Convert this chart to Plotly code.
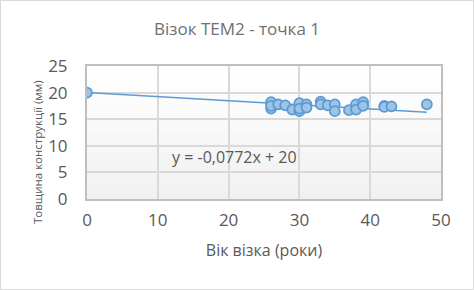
import plotly.graph_objects as go

# Data
age = [0, 26, 26, 26, 27, 28, 29, 30, 30, 30, 31, 31, 33, 33, 34, 35, 35, 37, 38, 38, 39, 39, 42, 42, 43, 48]
thickness = [20.0, 18.2, 17.0, 17.5, 17.8, 17.6, 16.8, 18.0, 16.5, 17.0, 17.8, 17.2, 18.3, 17.8, 17.6, 17.8, 16.5,
             16.7, 17.8, 16.8, 18.2, 17.5, 17.5, 17.3, 17.4, 17.8]
slope = -0.0772
intercept = 20.0
trend_x = [0, 48]
trend_y = [intercept + slope * v for v in trend_x]

title_text = "Візок TEM2 - точка 1"
x_title = "Вік візка (роки)"
y_title = "Товщина конструкції (мм)"
eq_text = "y = -0,0772x + 20"

FONT = "Open Sans"
GRAY = "#595959"

fig = go.Figure()

fig.add_trace(go.Scatter(x=trend_x, y=trend_y, mode="lines",
                         line=dict(color="#5b9bd5", width=1.5), hoverinfo="skip", showlegend=False))
fig.add_trace(go.Scatter(x=age, y=thickness, mode="markers",
                         marker=dict(size=10, color="#9dc3e6", line=dict(color="#5b9bd5", width=1.75)),
                         showlegend=False))

# subtle vertical gradient in plot area
n = 14
for i in range(n):
    g = 255 - int(i * 16 / n)
    fig.add_shape(type="rect", xref="x domain", yref="y domain", x0=0, x1=1,
                  y0=1 - (i + 1) / n, y1=1 - i / n, fillcolor=f"rgb({g},{g},{g})",
                  line=dict(width=0), layer="below")

W, H = 474, 290
ml, mr, mt, mb = 87, 33, 66, 91
pw, ph = W - ml - mr, H - mt - mb
fig.add_shape(type="rect", xref="paper", yref="paper",
              x0=-ml / pw + 0.5 / pw, x1=1 + (mr - 0.5) / pw,
              y0=-mb / ph + 0.5 / ph, y1=1 + (mt - 0.5) / ph,
              line=dict(color="#d9d9d9", width=1), fillcolor="rgba(0,0,0,0)")

fig.add_annotation(x=20.9, y=7.95, text=eq_text, showarrow=False, xref="x", yref="y",
                   font=dict(family=FONT, size=16, color=GRAY))

# y axis title placed as rotated text
fig.add_annotation(x=(37 - ml) / pw, y=(H - mb - 152) / ph, xref="paper", yref="paper",
                   text=y_title, textangle=-90, showarrow=False, xanchor="center", yanchor="middle",
                   font=dict(family=FONT, size=11.5, color=GRAY))

fig.update_layout(
    width=W, height=H,
    margin=dict(l=ml, r=mr, t=mt, b=mb, autoexpand=False),
    paper_bgcolor="white", plot_bgcolor="white",
    title=dict(text=title_text, x=0.5, xref="container", xanchor="center", y=1 - 29 / H, yanchor="middle",
               font=dict(family=FONT, size=17, color="#707070")),
    font=dict(family=FONT, color=GRAY),
    xaxis=dict(range=[0, 50], dtick=10, showgrid=True, gridcolor="#d9d9d9", gridwidth=1.5,
               showline=True, linecolor="#bfbfbf", linewidth=2, mirror=True, zeroline=False,
               ticks="", ticklabelstandoff=5, tickfont=dict(size=17, color=GRAY),
               title=dict(text=x_title, font=dict(size=16, color=GRAY), standoff=14)),
    yaxis=dict(range=[0, 25], dtick=5, showgrid=True, gridcolor="#d9d9d9", gridwidth=1.5,
               showline=True, linecolor="#bfbfbf", linewidth=2, mirror=True, zeroline=False,
               ticks="outside", ticklen=14, tickcolor="rgba(0,0,0,0)",
               tickfont=dict(size=17, color=GRAY)),
)

fig.write_html("out.html")
